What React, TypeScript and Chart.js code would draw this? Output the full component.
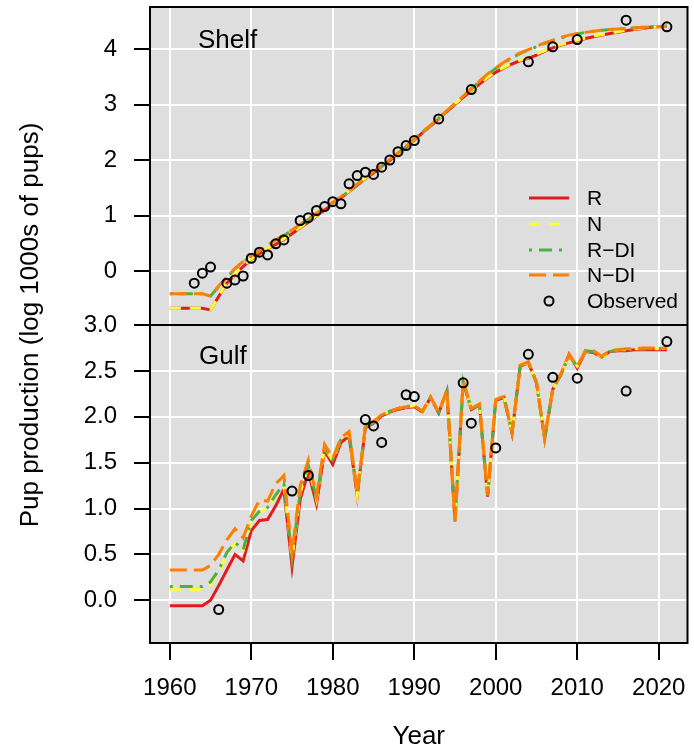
import React, { useEffect, useRef } from "react";
import { Chart, registerables } from "chart.js";

Chart.register(...registerables);

// ---- data -------------------------------------------------------------
const FIRST_YEAR = 1960;

const X_TICKS = [1960, 1970, 1980, 1990, 2000, 2010, 2020];
const SHELF_TICKS = [0, 1, 2, 3, 4];
const GULF_TICKS = [0, 0.5, 1, 1.5, 2, 2.5, 3];

const SERIES_NAMES = ["R", "N", "R\u2212DI", "N\u2212DI"];
const OBSERVED_NAME = "Observed";

// Shelf herd, log pup production, 1960-2021
const SHELF_R = [
  -0.67, -0.67, -0.67, -0.67, -0.67, -0.7, -0.46, -0.22, -0.07, 0.08,
  0.21, 0.31, 0.4, 0.48, 0.57, 0.67, 0.78, 0.88, 0.99, 1.1,
  1.21, 1.32, 1.43, 1.55, 1.66, 1.77, 1.88, 1.99, 2.11, 2.23,
  2.36, 2.49, 2.61, 2.74, 2.87, 3.0, 3.13, 3.25, 3.37, 3.48,
  3.58, 3.66, 3.73, 3.79, 3.83, 3.89, 3.96, 4.02, 4.07, 4.11,
  4.15, 4.19, 4.22, 4.25, 4.28, 4.3, 4.33, 4.35, 4.37, 4.39,
  4.4, 4.41,
];
const SHELF_N = [
  -0.67, -0.67, -0.67, -0.67, -0.67, -0.7, -0.46, -0.21, -0.06, 0.09,
  0.22, 0.32, 0.41, 0.49, 0.58, 0.68, 0.79, 0.89, 1.0, 1.11,
  1.22, 1.33, 1.44, 1.56, 1.67, 1.78, 1.89, 2.0, 2.12, 2.24,
  2.37, 2.5, 2.62, 2.75, 2.88, 3.01, 3.14, 3.26, 3.38, 3.49,
  3.59, 3.67, 3.74, 3.8, 3.85, 3.91, 3.97, 4.03, 4.08, 4.12,
  4.16, 4.2, 4.23, 4.26, 4.29, 4.31, 4.34, 4.36, 4.38, 4.39,
  4.4, 4.41,
];
const SHELF_RDI = [
  -0.41, -0.41, -0.41, -0.41, -0.41, -0.45, -0.28, -0.12, 0.04, 0.16,
  0.26, 0.36, 0.46, 0.55, 0.64, 0.73, 0.83, 0.93, 1.03, 1.13,
  1.23, 1.33, 1.44, 1.56, 1.67, 1.78, 1.89, 2.0, 2.12, 2.24,
  2.37, 2.5, 2.62, 2.75, 2.88, 3.01, 3.14, 3.28, 3.41, 3.54,
  3.65, 3.75, 3.84, 3.92, 3.98, 4.04, 4.1, 4.15, 4.2, 4.24,
  4.27, 4.3, 4.32, 4.34, 4.35, 4.36, 4.37, 4.38, 4.39, 4.4,
  4.4, 4.41,
];
const SHELF_NDI = [
  -0.41, -0.41, -0.41, -0.41, -0.41, -0.45, -0.27, -0.11, 0.05, 0.17,
  0.27, 0.37, 0.47, 0.56, 0.65, 0.74, 0.84, 0.94, 1.04, 1.14,
  1.24, 1.34, 1.45, 1.57, 1.68, 1.79, 1.9, 2.01, 2.13, 2.25,
  2.38, 2.51, 2.63, 2.76, 2.89, 3.02, 3.15, 3.29, 3.42, 3.55,
  3.66, 3.76, 3.85, 3.93, 3.99, 4.05, 4.11, 4.16, 4.21, 4.25,
  4.28, 4.3, 4.32, 4.34, 4.35, 4.36, 4.37, 4.38, 4.39, 4.4,
  4.4, 4.41,
];
const SHELF_OBS_YEARS = [
  1963, 1964, 1965, 1967, 1968, 1969, 1970, 1971, 1972, 1973, 1974,
  1976, 1977, 1978, 1979, 1980, 1981, 1982, 1983, 1984, 1985, 1986,
  1987, 1988, 1989, 1990, 1993, 1997, 2004, 2007, 2010, 2016, 2021,
];
const SHELF_OBS = [
  -0.22, -0.04, 0.07, -0.22, -0.16, -0.09, 0.23, 0.34, 0.29, 0.49, 0.56,
  0.91, 0.96, 1.09, 1.16, 1.25, 1.21, 1.57, 1.72, 1.78, 1.74, 1.87,
  2.0, 2.15, 2.26, 2.35, 2.74, 3.27, 3.77, 4.04, 4.17, 4.52, 4.4,
];

// Gulf herd, log pup production, 1960-2021
const GULF_R = [
  -0.06, -0.06, -0.06, -0.06, -0.06, 0.0, 0.16, 0.33, 0.5, 0.43,
  0.76, 0.87, 0.88, 1.03, 1.21, 0.37, 1.1, 1.4, 1.05, 1.63,
  1.48, 1.72, 1.79, 1.14, 1.88, 1.93, 2.01, 2.05, 2.08, 2.1,
  2.11, 2.05, 2.21, 2.04, 2.28, 0.86, 2.38, 2.08, 2.13, 1.13,
  2.18, 2.21, 1.82, 2.55, 2.59, 2.37, 1.76, 2.3, 2.46, 2.68,
  2.53, 2.71, 2.7, 2.65, 2.71, 2.72, 2.72, 2.73, 2.73, 2.73,
  2.73, 2.73,
];
const GULF_N = [
  0.12, 0.12, 0.12, 0.12, 0.12, 0.17, 0.31, 0.5, 0.62, 0.54,
  0.86, 0.96, 1.0, 1.14, 1.26, 0.45, 1.17, 1.46, 1.1, 1.66,
  1.52, 1.75, 1.82, 1.15, 1.89, 1.94, 2.02, 2.06, 2.09, 2.11,
  2.12, 2.05, 2.21, 2.05, 2.28, 0.87, 2.38, 2.09, 2.13, 1.14,
  2.19, 2.22, 1.83, 2.56, 2.59, 2.37, 1.77, 2.3, 2.46, 2.67,
  2.55, 2.72, 2.71, 2.65, 2.71, 2.73, 2.73, 2.74, 2.74, 2.74,
  2.74, 2.75,
];
const GULF_RDI = [
  0.15, 0.15, 0.15, 0.15, 0.15, 0.2, 0.33, 0.52, 0.63, 0.55,
  0.87, 0.97, 1.01, 1.15, 1.27, 0.46, 1.18, 1.47, 1.11, 1.67,
  1.53, 1.75, 1.83, 1.16, 1.89, 1.94, 2.02, 2.06, 2.09, 2.11,
  2.12, 2.06, 2.21, 2.05, 2.28, 0.87, 2.38, 2.09, 2.13, 1.14,
  2.19, 2.22, 1.83, 2.56, 2.59, 2.37, 1.77, 2.3, 2.46, 2.67,
  2.55, 2.72, 2.71, 2.65, 2.71, 2.73, 2.73, 2.74, 2.74, 2.74,
  2.74, 2.75,
];
const GULF_NDI = [
  0.33, 0.33, 0.33, 0.33, 0.33, 0.38, 0.5, 0.66, 0.78, 0.68,
  0.92, 1.09, 1.08, 1.27, 1.36, 0.52, 1.25, 1.53, 1.14, 1.7,
  1.55, 1.77, 1.84, 1.17, 1.9, 1.95, 2.02, 2.06, 2.09, 2.11,
  2.12, 2.06, 2.22, 2.05, 2.29, 0.88, 2.39, 2.09, 2.14, 1.15,
  2.19, 2.22, 1.83, 2.56, 2.6, 2.38, 1.77, 2.31, 2.47, 2.68,
  2.55, 2.72, 2.72, 2.66, 2.72, 2.73, 2.74, 2.74, 2.75, 2.75,
  2.75, 2.75,
];
const GULF_OBS_YEARS = [
  1966, 1975, 1977, 1984, 1985, 1986, 1989, 1990, 1996, 1997, 2000,
  2004, 2007, 2010, 2016, 2021,
];
const GULF_OBS = [
  -0.1, 1.19, 1.36, 1.97, 1.9, 1.72, 2.24, 2.22, 2.37, 1.93, 1.66,
  2.68, 2.43, 2.42, 2.28, 2.82,
];

// ---- styling ------------------------------------------------------------
const FONT = '"Liberation Sans", Arial, sans-serif';
const PANEL_BG = "#DEDEDE";
const COLORS = ["#E41A1C", "#FFFF33", "#4DAF4A", "#FF7F00"];
const DASHES: number[][] = [[], [11, 9], [3, 7, 13, 7], [17, 7]];
const LINE_W = 3;

const W = 694;
const H = 753;

const toPoints = (xs: number[], ys: number[]) =>
  ys.map((v, i) => ({ x: xs[i], y: v }));

const YEARS = SHELF_R.map((_, i) => FIRST_YEAR + i);

function modelSets(series: number[][], axis: string) {
  return series.map((vals, k) => ({
    type: "line" as const,
    label: SERIES_NAMES[k],
    data: toPoints(YEARS, vals),
    yAxisID: axis,
    borderColor: COLORS[k],
    borderWidth: LINE_W,
    borderDash: DASHES[k],
    pointRadius: 0,
    fill: false,
    tension: 0,
    order: 5 - k,
  }));
}

function obsSet(xs: number[], ys: number[], axis: string) {
  return {
    type: "scatter" as const,
    label: OBSERVED_NAME,
    data: toPoints(xs, ys),
    yAxisID: axis,
    showLine: false,
    pointStyle: "circle",
    pointRadius: 4.5,
    pointBorderWidth: 2,
    pointBorderColor: "#000",
    pointBackgroundColor: "rgba(0,0,0,0)",
    borderColor: "#000",
    backgroundColor: "rgba(0,0,0,0)",
    order: 0,
  };
}

const decorations = {
  id: "decorations",
  beforeDraw(chart: any) {
    const { ctx, chartArea: a } = chart;
    ctx.save();
    ctx.fillStyle = PANEL_BG;
    ctx.fillRect(a.left, a.top, a.right - a.left, a.bottom - a.top);
    ctx.restore();
  },
  afterDatasetsDraw(chart: any) {
    const { ctx } = chart;
    const top = chart.scales.yTop;
    const bot = chart.scales.yBot;
    ctx.save();
    ctx.fillStyle = "#000";
    ctx.textBaseline = "middle";
    ctx.textAlign = "left";
    ctx.font = `26px ${FONT}`;
    ctx.fillText("Shelf", 198, top.top + 34);
    ctx.fillText("Gulf", 199, bot.top + 32);

    // legend inside the Shelf panel
    const rowY = [198, 224, 250, 275, 301];
    ctx.font = `21px ${FONT}`;
    SERIES_NAMES.forEach((name, k) => {
      ctx.beginPath();
      ctx.strokeStyle = COLORS[k];
      ctx.lineWidth = LINE_W;
      ctx.setLineDash(DASHES[k]);
      ctx.moveTo(529, rowY[k]);
      ctx.lineTo(569, rowY[k]);
      ctx.stroke();
      ctx.setLineDash([]);
      ctx.fillText(name, 587, rowY[k] + 1);
    });
    ctx.beginPath();
    ctx.strokeStyle = "#000";
    ctx.lineWidth = 2;
    ctx.arc(549, rowY[4], 4.5, 0, Math.PI * 2);
    ctx.stroke();
    ctx.fillText(OBSERVED_NAME, 587, rowY[4] + 1);
    ctx.restore();
  },
  afterDraw(chart: any) {
    const { ctx, chartArea: a } = chart;
    const top = chart.scales.yTop;
    ctx.save();
    ctx.strokeStyle = "#000";
    ctx.lineWidth = 2;
    ctx.strokeRect(a.left, a.top, a.right - a.left, a.bottom - a.top);
    ctx.beginPath();
    ctx.moveTo(a.left, top.bottom);
    ctx.lineTo(a.right, top.bottom);
    ctx.stroke();

    ctx.fillStyle = "#000";
    ctx.textAlign = "center";
    ctx.textBaseline = "middle";
    ctx.font = `26px ${FONT}`;
    ctx.fillText("Year", (a.left + a.right) / 2, 737);
    ctx.translate(31, (a.top + a.bottom) / 2);
    ctx.rotate(-Math.PI / 2);
    ctx.fillText("Pup production (log 1000s of pups)", 0, 0);
    ctx.restore();
  },
};

const gridOpts = {
  color: "#FFFFFF",
  lineWidth: 2,
  tickColor: "#000000",
  tickWidth: 2,
};

// fixed axis boxes so the plotting region lands at the same place every time
const fitY = (s: any) => {
  s.width = 150;
  s.paddingTop = 0;
  s.paddingBottom = 0;
  s.paddingLeft = 0;
  s.paddingRight = 0;
};
const fitX = (s: any) => {
  s.height = 110;
  s.paddingTop = 0;
  s.paddingBottom = 0;
  s.paddingLeft = 0;
  s.paddingRight = 0;
};

export default function App() {
  const ref = useRef<HTMLCanvasElement | null>(null);

  useEffect(() => {
    if (!ref.current) return;
    const tickFont = { family: FONT, size: 24 };
    const chart = new Chart(ref.current, {
      type: "line",
      data: {
        datasets: [
          ...modelSets([SHELF_R, SHELF_N, SHELF_RDI, SHELF_NDI], "yTop"),
          obsSet(SHELF_OBS_YEARS, SHELF_OBS, "yTop"),
          ...modelSets([GULF_R, GULF_N, GULF_RDI, GULF_NDI], "yBot"),
          obsSet(GULF_OBS_YEARS, GULF_OBS, "yBot"),
        ] as any,
      },
      options: {
        animation: false,
        responsive: false,
        devicePixelRatio: 1,
        layout: { padding: { top: 7, right: 2, left: 0, bottom: 0 } },
        plugins: {
          legend: { display: false },
          tooltip: { enabled: false },
        },
        scales: {
          x: {
            type: "linear",
            min: 1957.57,
            max: 2023.53,
            afterBuildTicks: (s: any) => {
              s.ticks = X_TICKS.map((v) => ({ value: v }));
            },
            afterFit: fitX,
            grid: { ...gridOpts, tickLength: 17 },
            border: { display: false },
            ticks: {
              color: "#000",
              font: tickFont,
              padding: 14,
              maxRotation: 0,
              autoSkip: false,
              callback: (v: any) => String(v),
            },
          },
          yTop: {
            type: "linear",
            position: "left",
            stack: "panels",
            stackWeight: 1,
            weight: 2,
            min: -0.973,
            max: 4.757,
            afterBuildTicks: (s: any) => {
              s.ticks = SHELF_TICKS.map((v) => ({ value: v }));
            },
            afterFit: fitY,
            grid: { ...gridOpts, tickLength: 16 },
            border: { display: false },
            ticks: {
              color: "#000",
              font: tickFont,
              padding: 17,
              autoSkip: false,
              callback: (v: any) => String(v),
            },
          },
          yBot: {
            type: "linear",
            position: "left",
            stack: "panels",
            stackWeight: 1,
            weight: 1,
            min: -0.465,
            max: 3.0,
            afterBuildTicks: (s: any) => {
              s.ticks = GULF_TICKS.map((v) => ({ value: v }));
            },
            afterFit: fitY,
            grid: { ...gridOpts, tickLength: 16 },
            border: { display: false },
            ticks: {
              color: "#000",
              font: tickFont,
              padding: 17,
              autoSkip: false,
              callback: (v: any) => Number(v).toFixed(1),
            },
          },
        } as any,
      },
      plugins: [decorations],
    });
    return () => chart.destroy();
  }, []);

  return (
    <div style={{ position: "fixed", left: 0, top: 0, width: W, height: H, background: "#fff" }}>
      <canvas ref={ref} width={W} height={H} style={{ width: W, height: H, display: "block" }} />
    </div>
  );
}
